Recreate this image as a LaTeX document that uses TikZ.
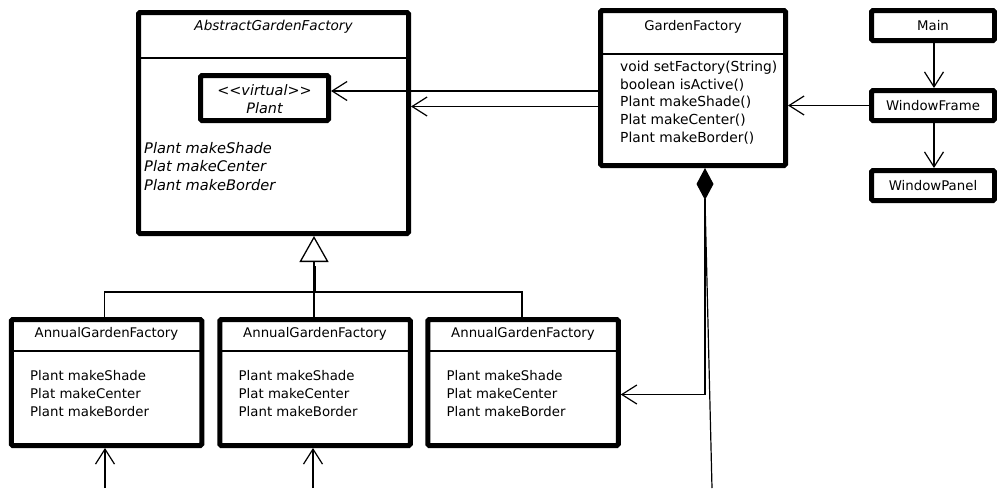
\documentclass[tikz,border=0pt]{standalone}
\usepackage{fontspec}
\setmainfont{DejaVu Sans}
\usetikzlibrary{arrows.meta}

\begin{document}
\begin{tikzpicture}[x=1pt,y=-1pt,
  txt/.style={font=\fontsize{13.3}{18}\selectfont, inner sep=0pt},
  itxt/.style={font=\fontsize{13.6}{18.5}\selectfont\itshape, inner sep=0pt},
  optxt/.style={font=\fontsize{14.6}{18.5}\selectfont\itshape, inner sep=0pt},
  classbox/.style={draw, line width=5pt, rounded corners=1.5pt, inner sep=0pt},
  divider/.style={line width=1.2pt},
  link/.style={line width=1.2pt},
  assoc/.style={line width=1.2pt, -{Straight Barb[length=15pt,width=19pt]}},
  comp/.style={line width=1.2pt, {Diamond[length=32pt,width=17pt]}-{Straight Barb[length=15pt,width=19pt]}},
  inherit/.style={line width=1.3pt, -{Triangle[open,length=26pt,width=29pt]}}
]
\useasboundingbox (0,0) rectangle (997,488);

% abstract factory with its embedded product class
\node[classbox, minimum width=270pt, minimum height=221pt] (abs) at (273.5,123) {};
\draw[divider] (138.5,58) -- (408.5,58);
\node[itxt] (absname) at (273.5,27) {AbstractGardenFactory};
\node[classbox, minimum width=128pt, minimum height=45pt] (plant) at (264.5,98) {};
\node[optxt, align=center, font=\fontsize{14.4}{18}\selectfont\itshape] (plantname) at (264.5,99.5)
  {<\kern0pt<virtual>\kern0pt>\\Plant};
\node[optxt, align=left, anchor=north west] (absops) at (144,142)
  {Plant makeShade\\Plat makeCenter\\Plant makeBorder};

% factory selector
\node[classbox, minimum width=185pt, minimum height=155pt] (gf) at (693,88) {};
\draw[divider] (600.5,54) -- (785.5,54);
\node[txt] (gfname) at (693,27) {GardenFactory};
\node[txt, align=left, anchor=north west, font=\fontsize{13.8}{17.6}\selectfont] (gfops) at (620,61)
  {void setFactory(String)\\boolean isActive()\\Plant makeShade()\\Plat makeCenter()\\Plant makeBorder()};

% user interface classes
\node[classbox, minimum width=123pt, minimum height=30pt] (main) at (933,25.5) {};
\node[txt] (mainname) at (933,26) {Main};
\node[classbox, minimum width=123pt, minimum height=30pt] (frame) at (933,105.5) {};
\node[txt] (framename) at (933,106) {WindowFrame};
\node[classbox, minimum width=123pt, minimum height=30pt] (panel) at (933,185.5) {};
\node[txt] (panelname) at (933,186) {WindowPanel};

% concrete factories
\foreach \i/\cx in {1/106.5, 2/315, 3/523} {
  \node[classbox, minimum width=190.5pt, minimum height=126pt] (a\i) at (\cx,382.5) {};
  \draw[divider] (\cx-95,351) -- (\cx+95,351);
  \node[txt] (a\i name) at (\cx,334) {AnnualGardenFactory};
  \node[txt, align=left, anchor=north west] (a\i ops) at (\cx-76.5,370.5)
    {Plant makeShade\\Plat makeCenter\\Plant makeBorder};
}

% inheritance tree
\coordinate (j) at (314,292);
\coordinate (n1) at ([xshift=-2pt]a1.north);
\coordinate (n3) at ([xshift=-1pt]a3.north);
\draw[link] (n1) -- (n1 |- j) -- (n3 |- j) -- (n3);
\draw[link] (j) -- (j |- a2.north);
\draw[inherit] (j) -- (j |- abs.south);
\draw[line width=3pt] (j) -- ++(0,-26);

% associations
\coordinate (p1) at ([yshift=7pt]plant.east);
\draw[assoc] (p1 -| gf.west) -- (p1);
\coordinate (p2) at ([yshift=16.5pt]abs.east);
\draw[assoc] (p2 -| gf.west) -- (p2);
\draw[assoc] (frame.west) -- (frame.west -| gf.east);
\draw[assoc] ([xshift=1pt]main.south) -- ([xshift=1pt]frame.north);
\draw[assoc] ([xshift=1pt]frame.south) -- ([xshift=1pt]panel.north);

% composition from the selector
\coordinate (d) at ([xshift=12pt]gf.south);
\draw[comp] (d) |- ([yshift=-12pt]a3.east);
\coordinate (tail) at (712,488);
\draw[link] ([yshift=-32pt]d) -- (tail);

% incoming references from below
\coordinate (t1) at (105,488);
\coordinate (t2) at (313,488);
\draw[assoc] (t1) -- (t1 |- a1.south);
\draw[assoc] (t2) -- (t2 |- a2.south);
\end{tikzpicture}
\end{document}
